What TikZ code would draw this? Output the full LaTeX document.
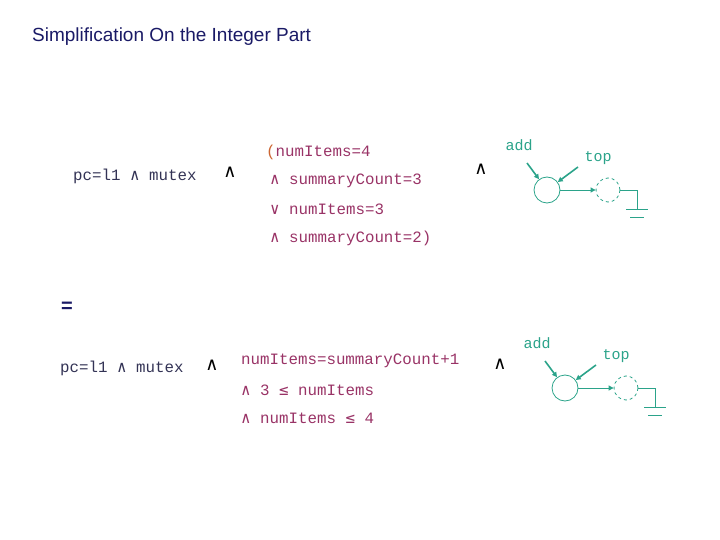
\documentclass[tikz,border=0pt]{standalone}
\usepackage{fontspec}
\setmainfont{Liberation Sans}
\setmonofont{Liberation Mono}
\newfontfamily\symf{DejaVu Sans Mono}
\newfontfamily\symb{DejaVu Sans}
\newcommand{\AND}{{\symf ∧}}
\newcommand{\OR}{{\symf ∨}}
\newcommand{\LEQ}{{\symf ≤}}
\usetikzlibrary{arrows.meta}
\definecolor{navy}{HTML}{1A1A66}
\definecolor{mag}{HTML}{993366}
\definecolor{teal2}{HTML}{2BA38A}
\definecolor{orng}{HTML}{CC6633}
\definecolor{gry}{HTML}{333355}
\tikzset{
 mono/.style={font=\ttfamily\fontsize{15.8}{17}\selectfont, anchor=west, inner sep=0pt},
 cond/.style={mono, text=mag},
 lhs/.style={mono, text=gry},
 bigand/.style={font=\symb\fontsize{18}{22}\selectfont, inner sep=0pt, text=black},
 lbl/.style={font=\ttfamily\fontsize{15}{17}\selectfont, inner sep=0pt, text=teal2, anchor=center},
 cir/.style={draw=teal2, circle, minimum size=26pt, inner sep=0pt, thick},
 dcir/.style={draw=teal2, circle, dashed, minimum size=24pt, inner sep=0pt, thick},
 wire/.style={draw=teal2, thick},
 parr/.style={draw=teal2, line width=1.6pt, -{Triangle[length=5pt,width=5pt]}},
}
\newcommand{\resdiag}[3]{%
 \begin{scope}[shift={(#1,#2)}]
 \node[cir] (c#3) at (547,190) {};
 \node[dcir] (d#3) at (608,190) {};
 \node[lbl] (add#3) at (519,145) {add};
 \node[lbl] (top#3) at (598,158) {top};
 \coordinate (a1#3) at (527,163);
 \coordinate (a2#3) at (578,167);
 \coordinate (g1#3) at (637,190);
 \coordinate (g2#3) at (637,209);
 \draw[parr] (a1#3) -- (c#3);
 \draw[parr] (a2#3) -- (c#3);
 \draw[wire,-{Triangle[length=5pt,width=5pt]}] (c#3) -- (d#3);
 \draw[wire] (d#3.east) -- (g1#3) -- (g2#3);
 \draw[wire] ([xshift=-11pt]g2#3) -- ([xshift=11pt]g2#3);
 \draw[wire] ([xshift=-7pt,yshift=-8pt]g2#3) -- ([xshift=7pt,yshift=-8pt]g2#3);
 \end{scope}}
\begin{document}
\begin{tikzpicture}[x=1pt,y=-1pt]
\useasboundingbox (0,0) rectangle (720,540);
\node[anchor=west, text=navy, font=\fontsize{19}{22}\selectfont, inner sep=0pt] (title) at (32,37) {Simplification On the Integer Part};
% first
\node[lhs] (l1) at (73,176) {pc=l1 \AND{} mutex};
\node[bigand] (and1) at (230,172) {∧};
\node[cond] (r1) at (266,152) {\textcolor{orng}{(}numItems=4};
\node[cond] (r2) at (270,181) {\AND{} summaryCount=3};
\node[cond] (r3) at (270,209) {\OR{} numItems=3};
\node[cond] (r4) at (270,238) {\AND{} summaryCount=2)};
\node[bigand] (and2) at (481,169) {∧};
\resdiag{0}{0}{A}
% equals
\node[text=navy, font=\bfseries\fontsize{20}{22}\selectfont, inner sep=0pt] (eq) at (67,307) {=};
% second
\node[lhs] (l2) at (60,368) {pc=l1 \AND{} mutex};
\node[bigand] (and3) at (212,365) {∧};
\node[cond] (s1) at (241,361) {numItems=summaryCount+1};
\node[cond] (s2) at (241,390) {\AND{} 3 \LEQ{} numItems};
\node[cond] (s3) at (241,418) {\AND{} numItems \LEQ{} 4};
\node[bigand] (and4) at (500,364) {∧};
\resdiag{18}{198}{B}
\end{tikzpicture}
\end{document}
